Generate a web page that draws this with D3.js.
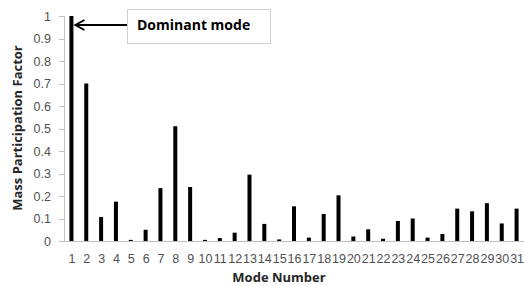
<!DOCTYPE html>
<html>
<head>
<meta charset="utf-8">
<script src="https://cdn.jsdelivr.net/npm/d3@7"></script>
<style>
  body { margin: 0; background: #fff; }
  svg { display: block; font-family: "Open Sans", sans-serif; }
</style>
</head>
<body>
<div id="chart"></div>
<script>
// mode numbers and mass participation factors
var modes = d3.range(1, 32).map(String);
var factors = [1.0, 0.70, 0.107, 0.175, 0.005, 0.05, 0.235, 0.51, 0.24, 0.005,
  0.013, 0.037, 0.295, 0.076, 0.007, 0.154, 0.015, 0.12, 0.203, 0.02,
  0.052, 0.01, 0.089, 0.1, 0.015, 0.031, 0.144, 0.132, 0.168, 0.078, 0.144];
var yTicks = [0, 0.1, 0.2, 0.3, 0.4, 0.5, 0.6, 0.7, 0.8, 0.9, 1];

var svgWidth = 524, svgHeight = 286;
var margin = {top: 16, right: 0, bottom: 45, left: 64};

var svg = d3.select('#chart').append('svg')
  .attr('width', svgWidth)
  .attr('height', svgHeight);

var x = d3.scaleBand()
  .range([margin.left, svgWidth - margin.right])
  .domain(modes);

var y = d3.scaleLinear()
  .range([svgHeight - margin.bottom, margin.top])
  .domain([0, 1]);

var yAxis = d3.axisLeft(y)
  .tickValues(yTicks)
  .tickFormat(d3.format('~g'))
  .tickSize(5)
  .tickPadding(8);

var xAxis = d3.axisBottom(x)
  .tickSize(0)
  .tickPadding(13);

var gy = svg.append('g')
  .attr('transform', 'translate(' + margin.left + ',0)')
  .call(yAxis);

var gx = svg.append('g')
  .attr('transform', 'translate(0,' + (svgHeight - margin.bottom) + ')')
  .call(xAxis);

[gx, gy].forEach(function (g) {
  g.selectAll('path, line').attr('stroke', '#bfbfbf').attr('shape-rendering', 'crispEdges');
  g.selectAll('text').attr('fill', '#505050').style('font-size', '12.5px');
});
gx.select('.domain').attr('d', 'M' + (margin.left - 4) + ',0.5H' + svgWidth);
gx.selectAll('text').attr('dx', '0.5');

// bars
var barW = 4;
svg.selectAll('rect.bar')
  .data(factors)
  .enter()
  .append('rect')
  .attr('class', 'bar')
  .attr('x', function (d, i) { return x(modes[i]) + x.bandwidth() / 2 - barW / 2; })
  .attr('y', function (d) { return y(d); })
  .attr('width', barW)
  .attr('height', function (d) { return y(0) - y(d); })
  .attr('fill', '#000');

// axis titles
svg.append('text')
  .attr('x', 279)
  .attr('y', 282)
  .attr('text-anchor', 'middle')
  .attr('fill', '#262626')
  .style('font-size', '13px')
  .style('font-weight', 'bold')
  .text('Mode Number');

svg.append('text')
  .attr('transform', 'translate(22,128) rotate(-90)')
  .attr('text-anchor', 'middle')
  .attr('fill', '#262626')
  .style('font-size', '13px')
  .style('font-weight', 'bold')
  .text('Mass Participation Factor');

// annotation
var boxX = 127, boxY = 9, boxW = 143, boxH = 34;
svg.append('rect')
  .attr('x', boxX + 0.5).attr('y', boxY + 0.5)
  .attr('width', boxW).attr('height', boxH)
  .attr('fill', '#fff')
  .attr('stroke', '#d0d0d0');

svg.append('text')
  .attr('x', boxX + 10)
  .attr('y', 30)
  .attr('fill', '#000')
  .style('font-size', '14px')
  .style('font-weight', 'bold')
  .text('Dominant mode');

var tipX = x(modes[0]) + x.bandwidth() / 2 + 4, arrowY = 25;
svg.append('path')
  .attr('d', 'M' + boxX + ',' + arrowY + 'H' + tipX)
  .attr('stroke', '#000')
  .attr('stroke-width', 2)
  .attr('fill', 'none');
svg.append('path')
  .attr('d', 'M' + (tipX + 9) + ',' + (arrowY - 5) + 'L' + tipX + ',' + arrowY + 'L' + (tipX + 9) + ',' + (arrowY + 5))
  .attr('stroke', '#000')
  .attr('stroke-width', 2)
  .attr('fill', 'none');
</script>
</body>
</html>
